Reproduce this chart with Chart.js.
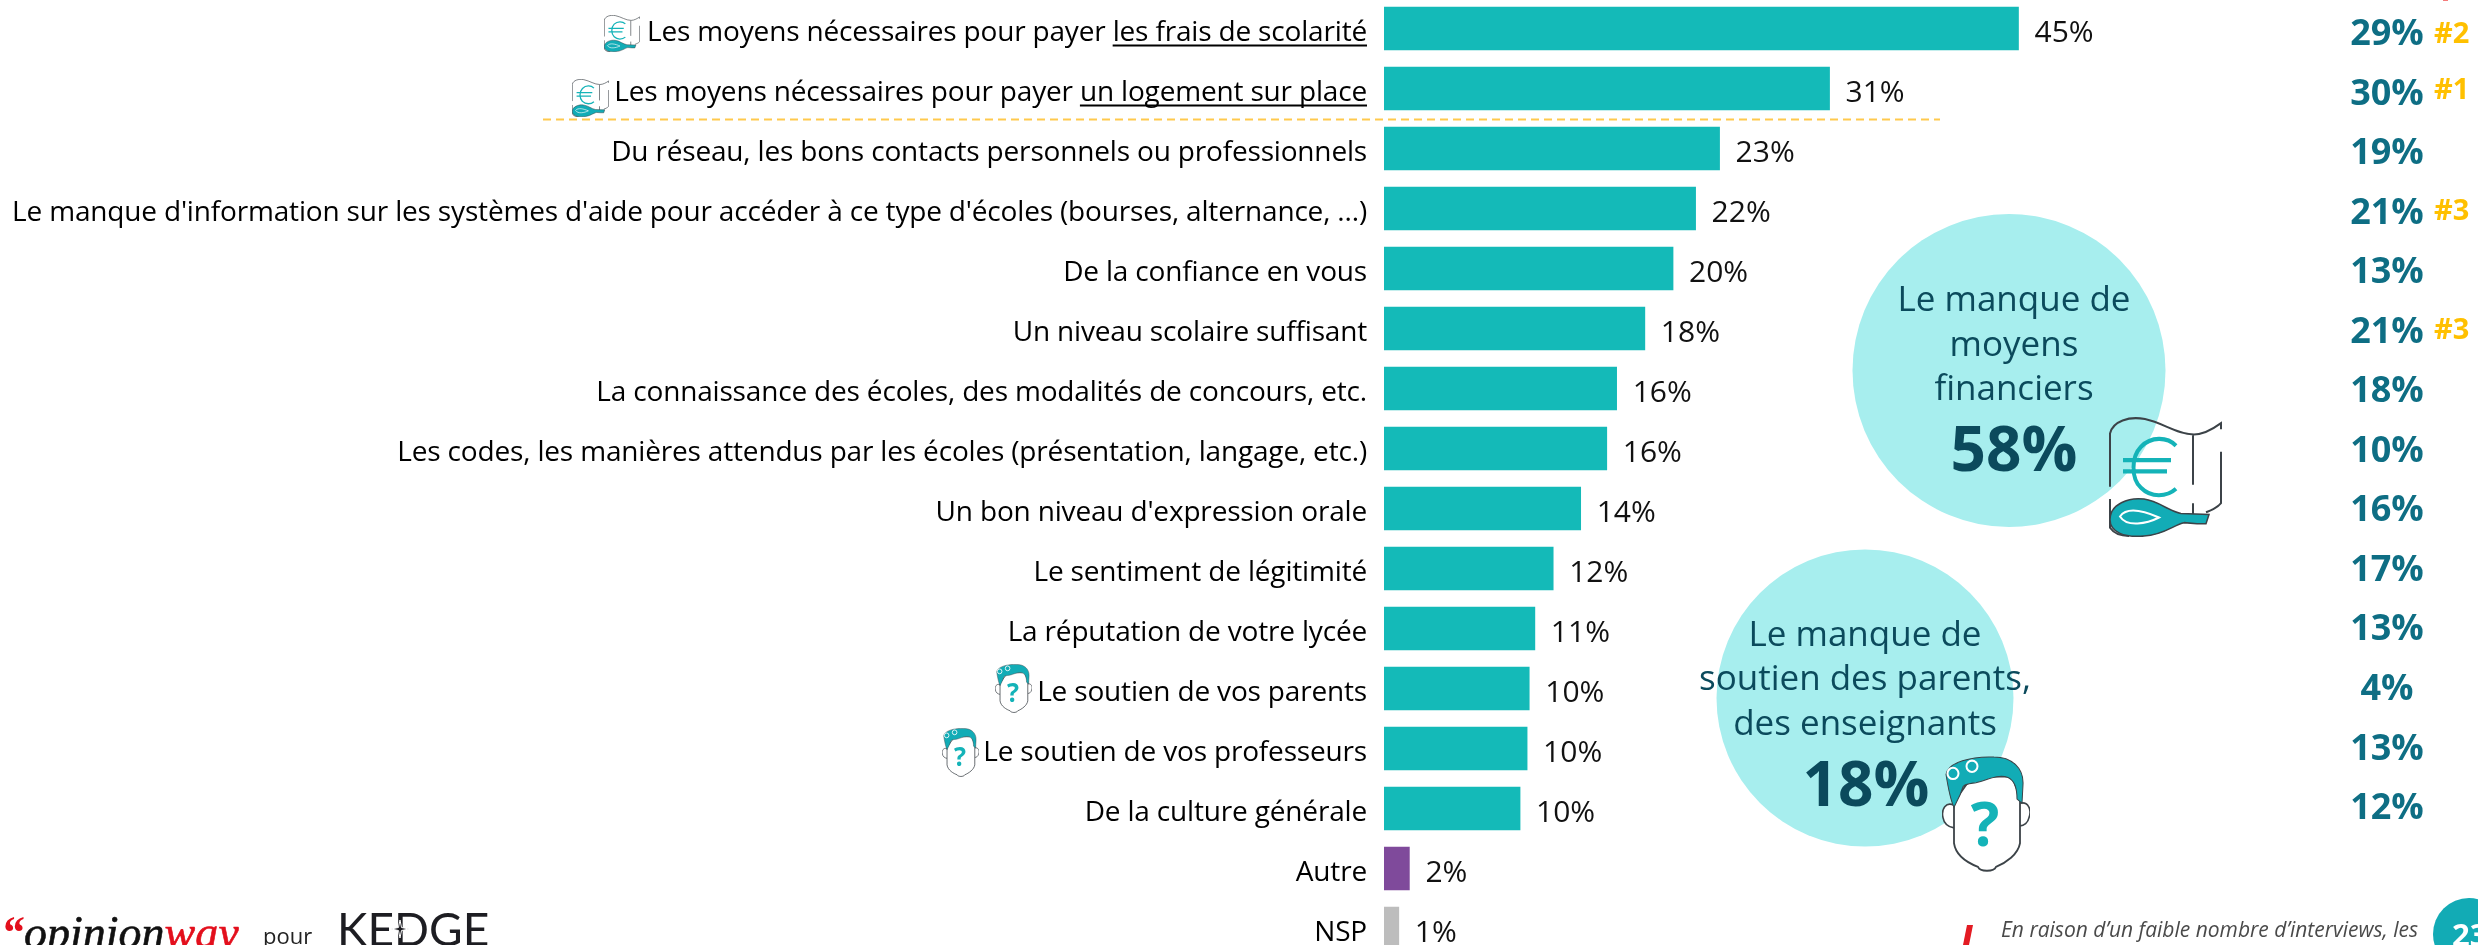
<!DOCTYPE html>
<html lang="fr">
<head>
<meta charset="utf-8">
<title>Freins</title>
<script src="https://cdn.jsdelivr.net/npm/chart.js@4"></script>
<style>
  html, body { margin: 0; width: 2478px; height: 945px; overflow: hidden; background: #fff; }
  #myChart { position: absolute; left: 0; top: -2px; }
  #extras { position: absolute; left: 0; top: 0; }
  #extras text { font-family: "Open Sans", sans-serif; }
</style>
</head>
<body>
<canvas id="myChart" width="2478" height="961"></canvas>

<svg id="extras" width="2478" height="945" viewBox="0 0 2478 945" xmlns="http://www.w3.org/2000/svg">
  <defs>
    <symbol id="money" viewBox="0 0 113 117" preserveAspectRatio="none">
      <path d="M1,68 V16 C4,4 20,-1 36,2 C55,6 68,17 85,17 C95,17 105,11 112,6 V12 M112,34 V84 C108,89 102,91 97,93 M84,18 V66 M84,84 V96 M1,80 V108 C6,115 14,116 20,116" fill="none" stroke="#3c4348" stroke-width="2"/>
      <path d="M67,28 C58,19 42,19 32,29 C22,39 22,60 32,69 C42,79 58,78 67,70" fill="none" stroke="#14b3b8" stroke-width="4"/>
      <path d="M14,42 H62 M14,53 H58" fill="none" stroke="#14b3b8" stroke-width="4"/>
      <path d="M1,100 C1,85 20,78 35,80 C50,82 60,92 72,94 L100,95 L97,104 L88,104 L75,103 C65,105 55,115 35,116 C15,118 1,112 1,100 Z" fill="#12acb6" stroke="#3c4348" stroke-width="1.5"/>
      <path d="M11,97 C18,87 36,92 50,98 C38,104 18,108 11,97 Z" fill="none" stroke="#fff" stroke-width="2"/>
    </symbol>
    <symbol id="head" viewBox="0 0 88 113" preserveAspectRatio="none">
      <path d="M12,48 C4,44 -1,52 1,60 C2,66 6,69 12,70 M78,46 C86,44 90,52 87,60 C86,65 82,68 78,68" fill="#fff" stroke="#3c4348" stroke-width="1.6"/>
      <path d="M12,45 V85 C14,98 28,105 36,108 C38,113 52,113 54,108 C64,104 76,96 78,85 V40 L70,20 L30,20 Z" fill="#fff" stroke="#3c4348" stroke-width="1.8"/>
      <path d="M4,18 C6,6 30,0 52,1 C70,1 82,12 81,28 L80,46 L75,42 C75,32 73,24 66,21 C56,17 44,24 34,26 C27,27 23,27 21,30 L18,38 L12,50 C8,42 6,30 4,18 Z" fill="#12acb6" stroke="#3c4348" stroke-width="1"/>
      <circle cx="11" cy="17" r="5.5" fill="none" stroke="#fff" stroke-width="2"/>
      <circle cx="30" cy="10" r="5.5" fill="none" stroke="#fff" stroke-width="2"/>
      <text x="43" y="88" text-anchor="middle" font-size="60" font-weight="700" fill="#14b3b8">?</text>
    </symbol>
  </defs>

  <rect x="2443" y="0" width="5" height="1" fill="#f47c7c"/>
  <line x1="543" y1="119.5" x2="1940" y2="119.5" stroke="#ffc94d" stroke-width="2" stroke-dasharray="8 5"/>

  <circle cx="2009" cy="370.5" r="156.5" fill="#a7eeee"/>
  <g fill="#0b4a5c" text-anchor="middle" font-size="35">
    <text x="2014" y="311">Le manque de</text>
    <text x="2014" y="356">moyens</text>
    <text x="2014" y="400">financiers</text>
    <text x="2014" y="471" font-size="62" font-weight="700">58%</text>
  </g>
  <use href="#money" x="2109" y="417" width="113" height="120"/>

  <circle cx="1865" cy="698" r="148.5" fill="#a7eeee"/>
  <g fill="#0b4a5c" text-anchor="middle" font-size="35">
    <text x="1865" y="646">Le manque de</text>
    <text x="1865" y="690">soutien des parents,</text>
    <text x="1865" y="735">des enseignants</text>
    <text x="1866" y="806" font-size="62" font-weight="700">18%</text>
  </g>
  <use href="#head" x="1942" y="756" width="88" height="116"/>

  <use href="#money" x="604" y="15" width="36" height="37"/>
  <use href="#money" x="572" y="79" width="37" height="38"/>
  <use href="#head" x="995" y="664" width="37" height="49"/>
  <use href="#head" x="942" y="728" width="37" height="49"/>

  <!-- bas de page -->
  <text x="1" y="948" style="font-family:'Liberation Serif',serif" font-size="46" font-style="italic" stroke-width="0.6"><tspan fill="#e30f1c" font-weight="700">“</tspan><tspan fill="#111" stroke="#111">opinion</tspan><tspan fill="#e30f1c" stroke="#e30f1c">way</tspan></text>
  <text x="263" y="944" font-size="22" fill="#222">pour</text>
  <text x="337" y="946" style="font-family:Lato,sans-serif" font-size="46" fill="#1d1d22">KEDGE</text>
  <path d="M400,920 L401.5,927.5 L409,929 L401.5,930.5 L400,938 L398.5,930.5 L391,929 L398.5,927.5 Z" fill="#1d1d22" stroke="#fff" stroke-width="1"/>
  <path d="M1963,945 L1967,925 H1973 L1969,945 Z" fill="#e31b23"/>
  <text x="2001" y="937" font-size="21" font-style="italic" fill="#4a4a4a">En raison d’un faible nombre d’interviews, les</text>
  <circle cx="2469" cy="934" r="36" fill="#12abb5"/>
  <text x="2452" y="946" font-size="31" font-weight="700" fill="#fff">23</text>
</svg>

<script>
const categories = [
  'Les moyens nécessaires pour payer les frais de scolarité',
  'Les moyens nécessaires pour payer un logement sur place',
  'Du réseau, les bons contacts personnels ou professionnels',
  "Le manque d'information sur les systèmes d'aide pour accéder à ce type d'écoles (bourses, alternance, ...)",
  'De la confiance en vous',
  'Un niveau scolaire suffisant',
  'La connaissance des écoles, des modalités de concours, etc.',
  'Les codes, les manières attendus par les écoles (présentation, langage, etc.)',
  "Un bon niveau d'expression orale",
  'Le sentiment de légitimité',
  'La réputation de votre lycée',
  'Le soutien de vos parents',
  'Le soutien de vos professeurs',
  'De la culture générale',
  'Autre',
  'NSP'
];
// bar lengths, the printed labels are rounded differently
const barValues = [45, 31.6, 23.8, 22.1, 20.5, 18.5, 16.5, 15.8, 13.95, 12, 10.7, 10.3, 10.15, 9.65, 1.8, 1.05];
const valueLabels = ['45%', '31%', '23%', '22%', '20%', '18%', '16%', '16%', '14%', '12%', '11%', '10%', '10%', '10%', '2%', '1%'];
const compareLabels = ['29%', '30%', '19%', '21%', '13%', '21%', '18%', '10%', '16%', '17%', '13%', '4%', '13%', '12%'];
const rankLabels = ['#2', '#1', '', '#3', '', '#3'];
const underlined = ['les frais de scolarité', 'un logement sur place'];
const barColors = categories.map(c => c === 'Autre' ? '#7f4a9b' : c === 'NSP' ? '#bdbdbd' : '#14bab8');

const labelSpacing = '-0.17px';
const rankNudge = [6.7, 2.4, 0, 3.4, 0, 2.4];

const extrasPlugin = {
  id: 'extrasPlugin',
  beforeDraw(chart) {
    chart.ctx.letterSpacing = labelSpacing;
  },
  afterDatasetsDraw(chart) {
    const ctx = chart.ctx;
    const bars = chart.getDatasetMeta(0).data;
    const y = chart.scales.y;
    ctx.save();
    ctx.letterSpacing = '0px';
    ctx.textBaseline = 'middle';

    ctx.font = '30px "Open Sans"';
    ctx.fillStyle = '#111';
    ctx.textAlign = 'left';
    valueLabels.forEach((t, i) => ctx.fillText(t, bars[i].x + 16, bars[i].y + 4.5));

    // the right column sits on a slightly tighter pitch than the bars
    ctx.font = '700 36px "Open Sans"';
    ctx.fillStyle = '#0e6e84';
    ctx.textAlign = 'center';
    compareLabels.forEach((t, i) => ctx.fillText(t, 2387, y.getPixelForValue(i) + 6.2 - 0.45 * i));

    ctx.font = '700 29px "Open Sans"';
    ctx.fillStyle = '#ffc000';
    ctx.textAlign = 'left';
    rankLabels.forEach((t, i) => { if (t) ctx.fillText(t, 2434, y.getPixelForValue(i) + rankNudge[i]); });

    // underlined part of the first two labels
    ctx.font = '28px "Open Sans"';
    ctx.letterSpacing = labelSpacing;
    ctx.fillStyle = '#000';
    const right = chart.chartArea.left - 17;
    underlined.forEach((t, i) => {
      const w = ctx.measureText(t).width;
      ctx.fillRect(right - w, y.getPixelForValue(i) + 16, w, 2);
    });
    ctx.restore();
  }
};

new Chart(document.getElementById('myChart'), {
  type: 'bar',
  data: {
    labels: categories,
    datasets: [{
      data: barValues,
      backgroundColor: barColors,
      borderWidth: 0,
      barThickness: 43,
      categoryPercentage: 1
    }]
  },
  options: {
    indexAxis: 'y',
    responsive: false,
    animation: false,
    layout: { autoPadding: false, padding: { top: 0.5, bottom: 0.5, left: 0, right: 107 } },
    plugins: { legend: { display: false }, tooltip: { enabled: false } },
    scales: {
      x: { display: false, min: 0, max: 70 },
      y: {
        border: { display: false },
        grid: { display: false, drawTicks: false },
        afterFit(scale) {
          scale.width = 1384;
          // tick padding must not eat into the plot height
          scale.paddingTop = 0;
          scale.paddingBottom = 0;
        },
        ticks: {
          autoSkip: false,
          padding: 17,
          color: '#000',
          // blank first line + small line height pushes the label 5px down
          callback(value) { return ['', this.getLabelForValue(value)]; },
          font: { family: '"Open Sans"', size: 28, lineHeight: '10px' }
        }
      }
    }
  },
  plugins: [extrasPlugin]
});
</script>
</body>
</html>
